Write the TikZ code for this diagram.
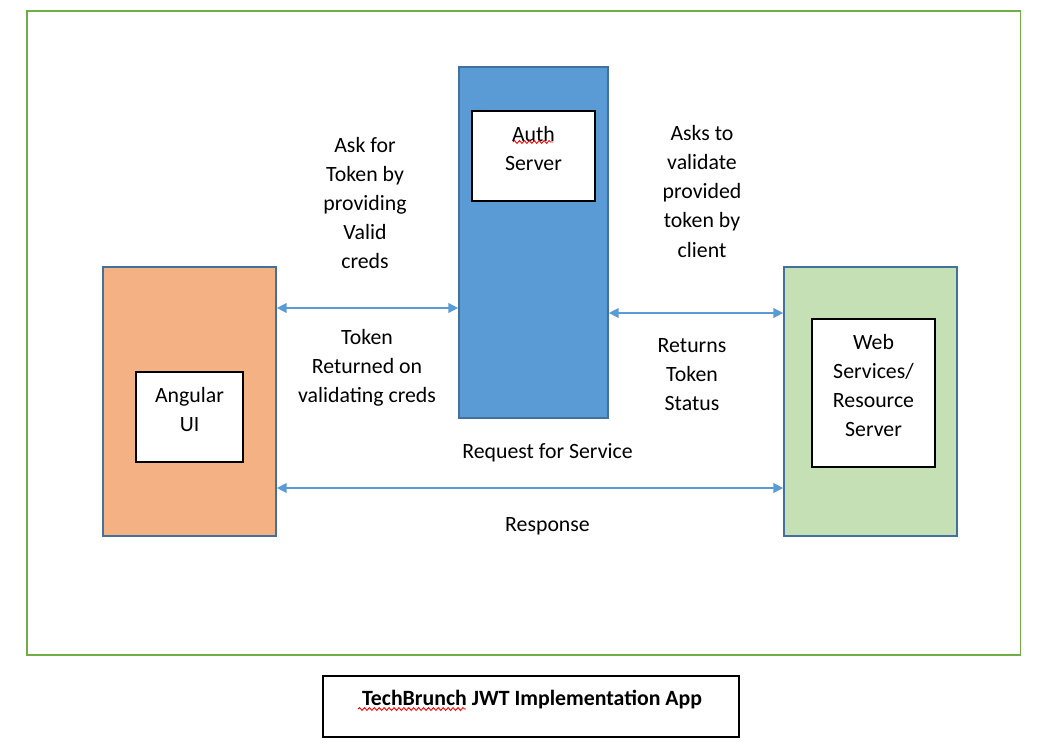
\documentclass[tikz,border=0pt]{standalone}
\usepackage{fontspec}
\setmainfont{Carlito}
\usetikzlibrary{arrows.meta, positioning, decorations.pathmorphing}
\definecolor{authblue}{HTML}{5B9BD5}
\definecolor{edgeblue}{HTML}{41719C}
\definecolor{uiorange}{HTML}{F4B183}
\definecolor{svcgreen}{HTML}{C5E0B4}
\definecolor{framegreen}{HTML}{70AD47}

\begin{document}
\begin{tikzpicture}[
x=0.01cm, y=-0.01cm,
every node/.style={font=\fontsize{6.2}{8.25}\selectfont},
box/.style={rectangle, draw=edgeblue, line width=0.45pt},
inbox/.style={rectangle, draw=black, line width=0.6pt, fill=white},
txt/.style={align=center, inner sep=0pt},
line/.style={{Triangle[length=2.8pt, width=2.8pt]}-{Triangle[length=2.8pt, width=2.8pt]}, draw=authblue, line width=0.4pt},
squiggle/.style={draw=red, line width=0.25pt, decorate, decoration={snake, amplitude=0.4pt, segment length=1.4pt}}
]
\useasboundingbox (0,0) rectangle (1046,752);
\node[rectangle, draw=framegreen, line width=0.45pt, minimum width=9.93cm, minimum height=6.44cm] (frame) at (523.5,333) {};

\node[box, fill=authblue, minimum width=1.49cm, minimum height=3.51cm] (auth) at (533.5,242.5) {};
\node[box, fill=uiorange, minimum width=1.73cm, minimum height=2.69cm] (angular) at (189.5,401.5) {};
\node[box, fill=svcgreen, minimum width=1.73cm, minimum height=2.69cm] (websvc) at (870.5,401.5) {};

\node[inbox, minimum width=1.23cm, minimum height=0.9cm] (authin) at (533.5,156) {};
\node[inbox, minimum width=1.07cm, minimum height=0.9cm] (angularin) at (189.5,417) {};
\node[inbox, minimum width=1.23cm, minimum height=1.48cm] (websvcin) at (873.5,393) {};

\node[txt] (authtxt) at (533.5,149) {Auth\\Server};
\node[txt] (angulartxt) at (189.5,410) {Angular\\UI};
\node[txt] (websvctxt) at (873.5,385.5) {Web\\Services/\\Resource\\Server};

\coordinate (tokrow) at (0,308);
\coordinate (valrow) at (0,313);
\coordinate (svcrow) at (0,488);
\draw[line] (angular.east |- tokrow) -- (auth.west |- tokrow);
\draw[line] (auth.east |- valrow) -- (websvc.west |- valrow);
\draw[line] (angular.east |- svcrow) -- (websvc.west |- svcrow);

\node[txt] (askfor) at (365,203) {Ask for\\Token by\\providing\\Valid\\creds};
\node[txt] (tokret) at (367,368) {Token\\Returned on\\validating creds};
\node[txt] (askval) at (702,191.5) {Asks to\\validate\\provided\\token by\\client};
\node[txt] (retstat) at (692,375) {Returns\\Token\\Status};
\node[txt] (reqsvc) at (547.5,453) {Request for Service};
\node[txt] (resp) at (547.5,526) {Response};

\node[rectangle, draw=black, line width=0.5pt, minimum width=4.16cm, minimum height=0.61cm] (titlebox) at (531,706.5) {};
\node[txt, font=\fontsize{6.2}{8.25}\selectfont\bfseries] (title) at (532,700) {TechBrunch JWT Implementation App};

% spell-check marks
\draw[squiggle] (513,142) -- (553,142);
\draw[squiggle] (358,709) -- (466,709);
\end{tikzpicture}
\end{document}
